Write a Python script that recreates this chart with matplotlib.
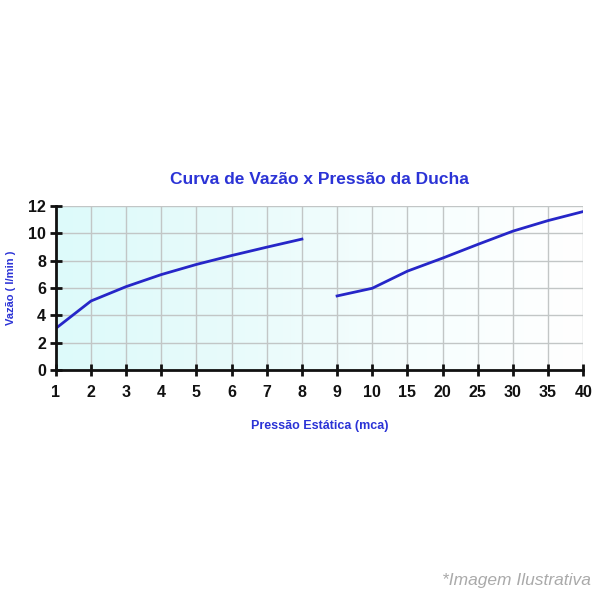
import matplotlib
matplotlib.use("Agg")
import matplotlib.pyplot as plt
import numpy as np
from matplotlib.colors import LinearSegmentedColormap

plt.rcParams["font.family"] = ["Liberation Sans", "DejaVu Sans"]

pressure_labels = ["1", "2", "3", "4", "5", "6", "7", "8", "9", "10", "15", "20", "25", "30", "35", "40"]
flow_low = [3.05, 5.05, 6.1, 6.98, 7.72, 8.37, 8.98, 9.57]          # pressures 1..8
flow_high = [5.42, 5.98, 7.23, 8.18, 9.18, 10.15, 10.92, 11.58]     # pressures 9..40
y_ticks = [0, 2, 4, 6, 8, 10, 12]

blue = "#2b33d6"
line_col = "#2626c8"

fig = plt.figure(figsize=(6, 6), dpi=100)
ax = fig.add_axes([0.093, 0.383, 0.879, 0.274])

x_all = np.arange(len(pressure_labels))
x_low = x_all[:len(flow_low)]
x_high = x_all[len(flow_low):len(flow_low) + len(flow_high)]

cmap = LinearSegmentedColormap.from_list("bg", ["#ddfafa", "#e8fbfb", "#f6fefe", "#ffffff"])
grad = np.linspace(0, 1, 256).reshape(1, -1)
ax.imshow(grad, extent=[0, 1, 0, 1], transform=ax.transAxes, cmap=cmap,
          aspect="auto", zorder=0)

ax.plot(x_low, flow_low, color=line_col, lw=2, zorder=3)
ax.plot(x_high, flow_high, color=line_col, lw=2, zorder=3)

ax.set_xlim(0, len(pressure_labels) - 1)
ax.set_ylim(0, 12)
ax.set_xticks(x_all)
ax.set_xticklabels(pressure_labels)
ax.set_yticks(y_ticks)
ax.grid(True, color="#c2c6c6", lw=1, zorder=1)
ax.set_axisbelow(True)

for s in ["top", "right"]:
    ax.spines[s].set_visible(False)
for s in ["left", "bottom"]:
    ax.spines[s].set_linewidth(2)
    ax.spines[s].set_color("#111111")
    ax.spines[s].set_zorder(4)

ax.tick_params(axis="both", direction="inout", length=8, width=2, color="#111111",
               labelsize=11.5)
ax.tick_params(axis="x", pad=7)
ax.tick_params(axis="y", pad=3)
for lab in ax.get_xticklabels() + ax.get_yticklabels():
    lab.set_fontweight("bold")
    lab.set_color("#111111")

ax.set_title("Curva de Vazão x Pressão da Ducha", color=blue, fontsize=12.5,
             fontweight="bold", pad=16)
ax.set_xlabel("Pressão Estática (mca)", color=blue, fontsize=9, fontweight="bold")
ax.xaxis.set_label_coords(0.5, -0.30)
ax.set_ylabel("Vazão ( l/min )", color=blue, fontsize=8, fontweight="bold")
ax.yaxis.set_label_coords(-0.075, 0.5)

fig.text(0.985, 0.033, "*Imagem Ilustrativa", color="#aaaaaa", fontsize=12.5,
         style="italic", ha="right", va="center")

fig.savefig("out.png", dpi=100)
